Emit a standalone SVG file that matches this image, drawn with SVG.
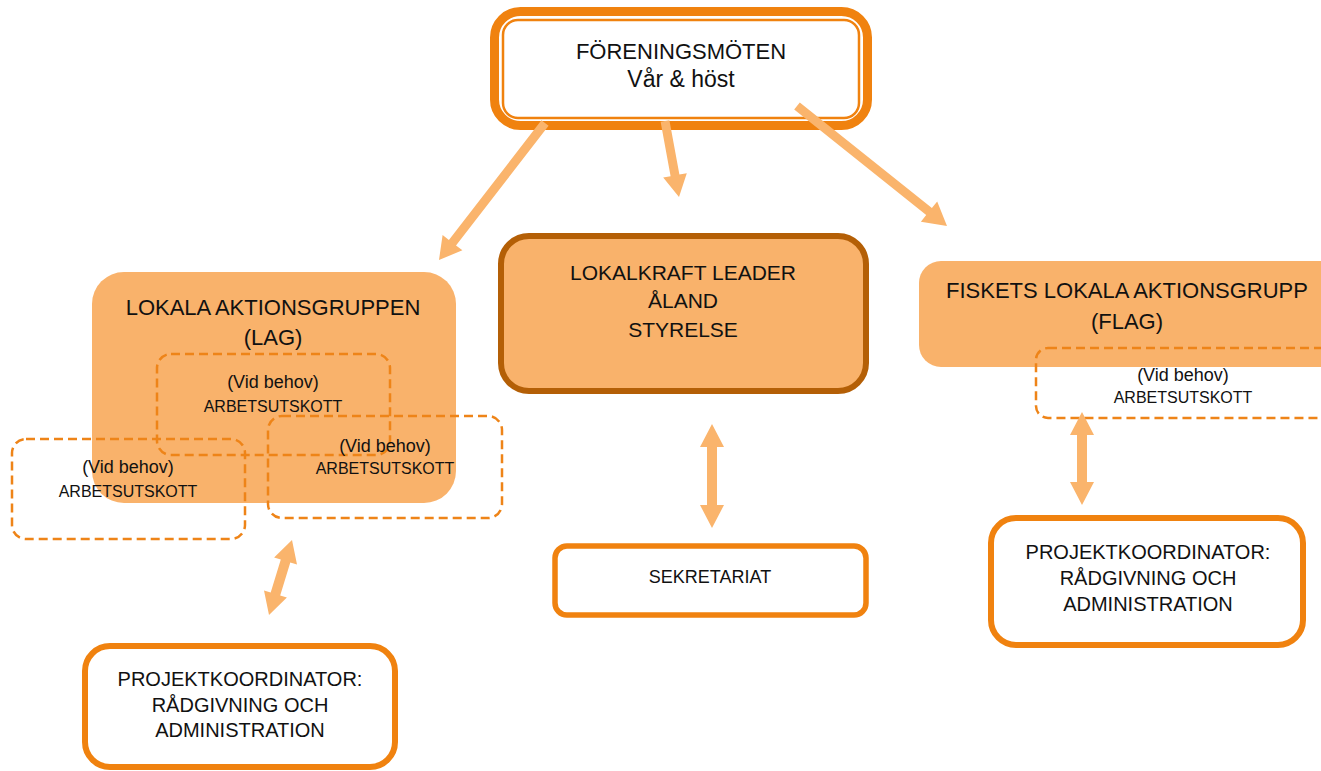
<svg xmlns="http://www.w3.org/2000/svg" width="1321" height="771" viewBox="0 0 1321 771">
<style>
text{font-family:"Liberation Sans",Arial,sans-serif;fill:#111;text-anchor:middle}
.t21{font-size:21px}
.t22{font-size:22px}
.t23{font-size:23px}
.t20{font-size:20px}
.t18{font-size:18px}
.t16{font-size:16px}
.v{font-size:18px}
.fill{fill:#F9B26B}
.white{fill:#FFFFFF;stroke:#F0820F}
.dash{fill:none;stroke:#EE8418;stroke-width:2.5;stroke-dasharray:9 5}
.arrow{fill:#FAB46C}
</style>
<rect x="0" y="0" width="1321" height="771" fill="#FFFFFF"/>
<g id="foreningsmoten">
<rect x="494.5" y="11.5" width="373" height="114" rx="26" fill="#FFFFFF" stroke="#F0820F" stroke-width="9"/>
<rect x="503" y="20" width="356" height="98" rx="15" fill="none" stroke="#F0820F" stroke-width="2.5"/>
<text class="t22" x="681" y="59">FÖRENINGSMÖTEN</text>
<text class="t23" x="681" y="87">Vår &amp; höst</text>
</g>
<g id="lag">
<rect class="fill" x="92" y="272" width="364" height="231" rx="32"/>
<text class="t22" x="273" y="315">LOKALA AKTIONSGRUPPEN</text>
<text class="t22" x="273" y="345">(LAG)</text>
</g>
<g id="lag-utskott-1">
<rect class="dash" x="157" y="354" width="233" height="101" rx="14"/>
<text class="v" x="273" y="388">(Vid behov)</text>
<text class="t16" x="273" y="412">ARBETSUTSKOTT</text>
</g>
<g id="lag-utskott-2">
<rect class="dash" x="12" y="439" width="233" height="100" rx="14"/>
<text class="v" x="128" y="473">(Vid behov)</text>
<text class="t16" x="128" y="497">ARBETSUTSKOTT</text>
</g>
<g id="lag-utskott-3">
<rect class="dash" x="268" y="416" width="234" height="102" rx="14"/>
<text class="v" x="385" y="452">(Vid behov)</text>
<text class="t16" x="385" y="474">ARBETSUTSKOTT</text>
</g>
<g id="styrelse">
<rect x="501" y="236" width="365" height="155" rx="28" fill="#F9B26B" stroke="#B45F06" stroke-width="6"/>
<text class="t21" x="683" y="280">LOKALKRAFT LEADER</text>
<text class="t21" x="683" y="308">ÅLAND</text>
<text class="t21" x="683" y="337">STYRELSE</text>
</g>
<g id="flag">
<rect class="fill" x="919" y="261" width="440" height="106" rx="22"/>
<text class="t22" x="1127" y="298">FISKETS LOKALA AKTIONSGRUPP</text>
<text class="t22" x="1127" y="329">(FLAG)</text>
</g>
<g id="flag-utskott">
<rect class="dash" x="1036" y="348" width="320" height="70" rx="12"/>
<text class="v" x="1183" y="381">(Vid behov)</text>
<text class="t16" x="1183" y="403">ARBETSUTSKOTT</text>
</g>
<g id="sekretariat">
<rect class="white" x="555" y="546" width="311" height="69" rx="12" stroke-width="5.5"/>
<text class="t18" x="710" y="583">SEKRETARIAT</text>
</g>
<g id="projektkoordinator-flag">
<rect class="white" x="991" y="518" width="312" height="127" rx="25" stroke-width="6"/>
<text class="t20" x="1148" y="559">PROJEKTKOORDINATOR:</text>
<text class="t20" x="1148" y="585">RÅDGIVNING OCH</text>
<text class="t20" x="1148" y="611">ADMINISTRATION</text>
</g>
<g id="projektkoordinator-lag">
<rect class="white" x="85" y="646" width="310" height="121" rx="25" stroke-width="6"/>
<text class="t20" x="240" y="686">PROJEKTKOORDINATOR:</text>
<text class="t20" x="240" y="712">RÅDGIVNING OCH</text>
<text class="t20" x="240" y="737">ADMINISTRATION</text>
</g>
<g id="connectors">
<polygon class="arrow" points="541.4,120.3 448.9,239.9 442.6,235 439,260 462.4,250.3 456,245.4 548.6,125.8"/>
<polygon class="arrow" points="660.6,121.8 670.6,176.2 663.2,177.5 679,197 686.8,173.2 679.4,174.6 669.4,120.2"/>
<polygon class="arrow" points="794.2,109.5 926.2,215.1 920.9,221.8 947,226 937.2,201.5 931.9,208.1 799.8,102.5"/>
<polygon class="arrow" points="712,424 724,447 717,447 717,505 724,505 712,528 700,505 707,505 707,447 700,447"/>
<polygon class="arrow" points="1082,412 1094,435 1087,435 1087,482 1094,482 1082,505 1070,482 1077,482 1077,435 1070,435"/>
<polygon class="arrow" points="292,540 297,564.6 290.3,562.5 280.2,595.4 286.9,597.5 269,615 264,590.5 270.7,592.5 280.8,559.6 274.1,557.5"/>
</g>
</svg>
